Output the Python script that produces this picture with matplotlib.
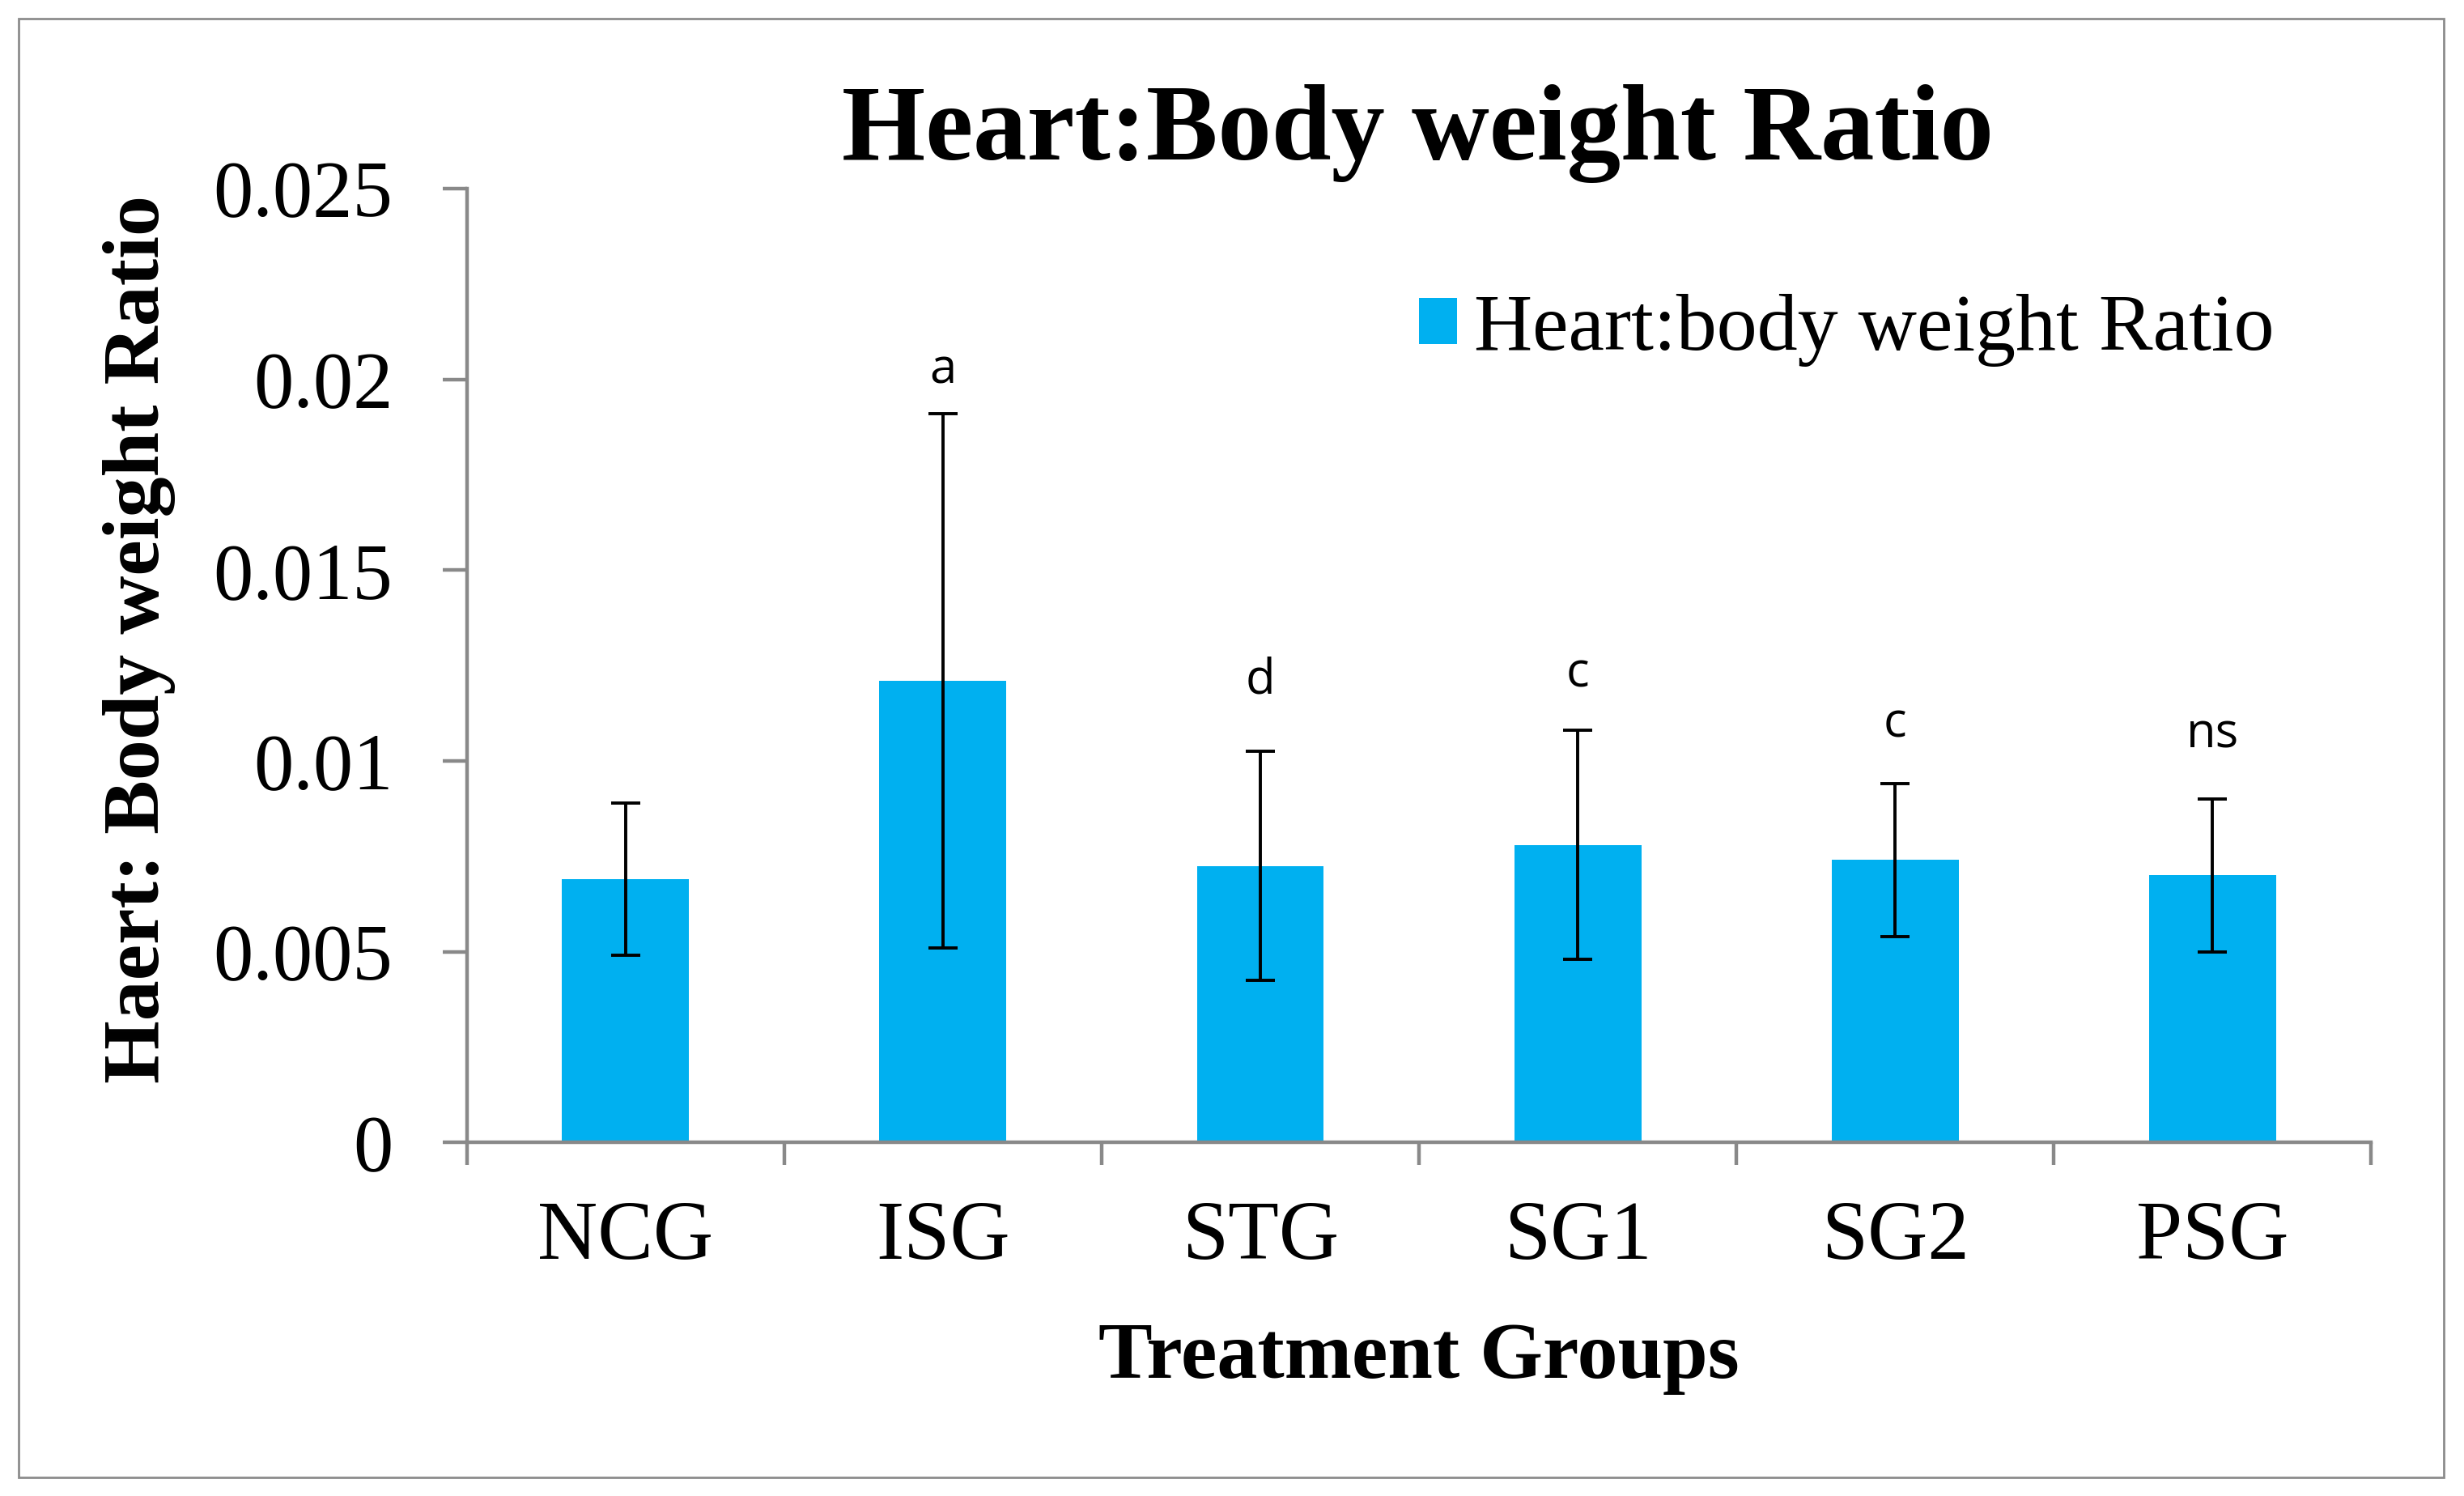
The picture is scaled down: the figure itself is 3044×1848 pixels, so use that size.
import matplotlib
matplotlib.use("Agg")
import matplotlib.pyplot as plt
from matplotlib.patches import Rectangle

categories = ["NCG", "ISG", "STG", "SG1", "SG2", "PSG"]
ratio_mean = [0.0069, 0.0121, 0.00725, 0.0078, 0.0074, 0.0070]
ratio_err = [0.0020, 0.0070, 0.0030, 0.0030, 0.0020, 0.0020]
sig_labels = ["", "a", "d", "c", "c", "ns"]
sig_y = [None, 0.0199, 0.01178, 0.01194, 0.01063, 0.01034]
yticks = [0, 0.005, 0.01, 0.015, 0.02, 0.025]
ytick_labels = ["0", "0.005", "0.01", "0.015", "0.02", "0.025"]

W, H = 1568, 952
fig = plt.figure(figsize=(15.22, 9.24), dpi=200)
serif = ["Liberation Serif", "DejaVu Serif"]

# outer border
fig.patches.append(Rectangle((12 / W, 1 - 940 / H), (1555 - 12) / W, (940 - 12) / H,
                             transform=fig.transFigure, fill=False,
                             edgecolor="#8c8c8c", linewidth=1.0))

ax = fig.add_axes([297 / W, 1 - 727 / H, (1509 - 297) / W, (727 - 120) / H])
x = list(range(len(categories)))
ax.bar(x, ratio_mean, width=0.4, color="#00b0f0",
       label="Heart:body weight Ratio", zorder=2)
ax.errorbar(x, ratio_mean, yerr=ratio_err, fmt="none", ecolor="black",
            elinewidth=1.4, capsize=6.5, capthick=1.4, zorder=3)

for xi, lab, yy in zip(x, sig_labels, sig_y):
    if lab:
        ax.text(xi, yy, lab, ha="center", va="baseline", fontsize=21.5,
                family=["Open Sans", "DejaVu Sans"], color="black")

ax.set_xlim(-0.5, len(categories) - 0.5)
ax.set_ylim(0, 0.025)
ax.set_yticks(yticks)
ax.set_yticklabels(ytick_labels, fontsize=35.5, family=serif)

ax.set_xticks([i - 0.5 for i in range(len(categories) + 1)])
ax.set_xticklabels([])
ax.set_xticks(x, minor=True)
ax.set_xticklabels(categories, minor=True, fontsize=37, family=serif)
ax.tick_params(axis="x", which="minor", length=0, pad=26)
ax.tick_params(axis="x", which="major", direction="out", length=10,
               width=1.6, color="#898989")
ax.tick_params(axis="y", direction="out", length=10.8, width=1.6,
               color="#898989", pad=22)

for s in ["top", "right"]:
    ax.spines[s].set_visible(False)
for s in ["left", "bottom"]:
    ax.spines[s].set_color("#898989")
    ax.spines[s].set_linewidth(1.6)

ax.set_xlabel("Treatment Groups", fontsize=36, fontweight="bold",
              family=serif, labelpad=20)
ax.set_ylabel("Haert: Body weight Ratio", fontsize=36, fontweight="bold",
              family=serif)
ax.yaxis.set_label_coords((112 - 297) / 1212, (727 - 407) / 607)

fig.text(902 / W, 1 - 85 / H, "Heart:Body weight Ratio", ha="center",
         va="center", fontsize=47.8, fontweight="bold", family=serif)

ax.legend(loc="center left", bbox_to_anchor=(903 / W, 1 - 210 / H),
          bbox_transform=fig.transFigure, frameon=False, borderpad=0,
          borderaxespad=0, handlelength=0.47, handleheight=0.5,
          handletextpad=0.21, prop={"family": serif, "size": 36})

fig.savefig("out.png", dpi=200, facecolor="white")
